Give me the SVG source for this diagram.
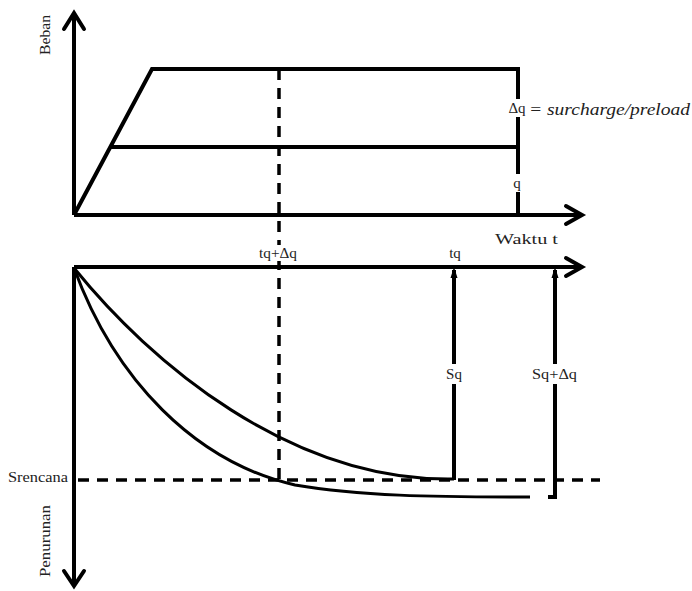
<svg xmlns="http://www.w3.org/2000/svg" width="692" height="591" viewBox="0 0 692 591">
<style>
.ln{fill:none;stroke:#000;stroke-width:4;stroke-linecap:butt;stroke-linejoin:miter}
.ar{fill:none;stroke:#000;stroke-width:4;stroke-linecap:round;stroke-linejoin:miter}
.ds{fill:none;stroke:#000;stroke-width:3.5;stroke-dasharray:11 8}
.cv{fill:none;stroke:#000;stroke-width:3}
text{font-family:"Liberation Serif","Times New Roman",serif;font-size:15px;fill:#222}
.it{font-style:italic;font-size:16px}
.bg{fill:#fff}
</style>
<rect width="692" height="591" fill="#fff"/>
<g id="axes">
<path class="ln" d="M74,215 V14"/>
<path class="ar" d="M64,29 L74,13 L84,29"/>
<path class="ln" d="M74,215 H581"/>
<path class="ar" d="M566,206 L582,215 L566,224"/>
<path class="ln" d="M74,267 H581"/>
<path class="ar" d="M566,258 L582,267 L566,276"/>
<path class="ln" d="M74,267 V585"/>
<path class="ar" d="M64,571 L74,586 L84,571"/>
</g>
<g id="load">
<path class="ln" d="M74,215 L152,69 H520"/>
<path class="ln" d="M111,147 H520"/>
<path class="ln" d="M518,69 V215"/>
</g>
<g id="connectors">
<path class="ds" d="M279,69 V480"/>
<path class="ds" d="M78,480 H600"/>
<path class="ln" d="M454,270 V480"/>
<path d="M454,267 L457.5,278 L450.5,278 Z" fill="#000"/>
<path class="ln" d="M555,270 V497 H548"/>
<path d="M555,267 L558.5,278 L551.5,278 Z" fill="#000"/>
</g>
<g id="curves">
<path class="cv" d="M74,268 C150,362 290,482 454,479"/>
<path class="cv" d="M74,268 C115,380 195,462 295,485 C360,496 430,497 530,497"/>
</g>
<g id="labels">
<text x="50" y="35" text-anchor="middle" transform="rotate(-90 50 35)" textLength="40" lengthAdjust="spacingAndGlyphs">Beban</text>
<rect class="bg" x="505" y="99" width="24" height="18"/>
<text x="517" y="113" text-anchor="middle">Δq</text>
<text x="529" y="115" class="it" textLength="161" lengthAdjust="spacingAndGlyphs">= surcharge/preload</text>
<rect class="bg" x="510" y="174" width="16" height="18"/>
<text x="517" y="188" text-anchor="middle">q</text>
<text x="495" y="244" textLength="63" lengthAdjust="spacingAndGlyphs">Waktu t</text>
<rect class="bg" x="257" y="245" width="42" height="16"/>
<text x="259" y="258" textLength="38" lengthAdjust="spacingAndGlyphs">tq+Δq</text>
<text x="455" y="258" text-anchor="middle">tq</text>
<rect class="bg" x="441" y="364" width="26" height="20"/>
<text x="454" y="379" text-anchor="middle">Sq</text>
<rect class="bg" x="530" y="364" width="50" height="20"/>
<text x="532" y="379" textLength="45" lengthAdjust="spacingAndGlyphs">Sq+Δq</text>
<text x="8" y="482" textLength="60" lengthAdjust="spacingAndGlyphs" style="font-size:14px">Srencana</text>
<text x="50" y="541" text-anchor="middle" transform="rotate(-90 50 541)" textLength="72" lengthAdjust="spacingAndGlyphs">Penurunan</text>
</g>
</svg>
